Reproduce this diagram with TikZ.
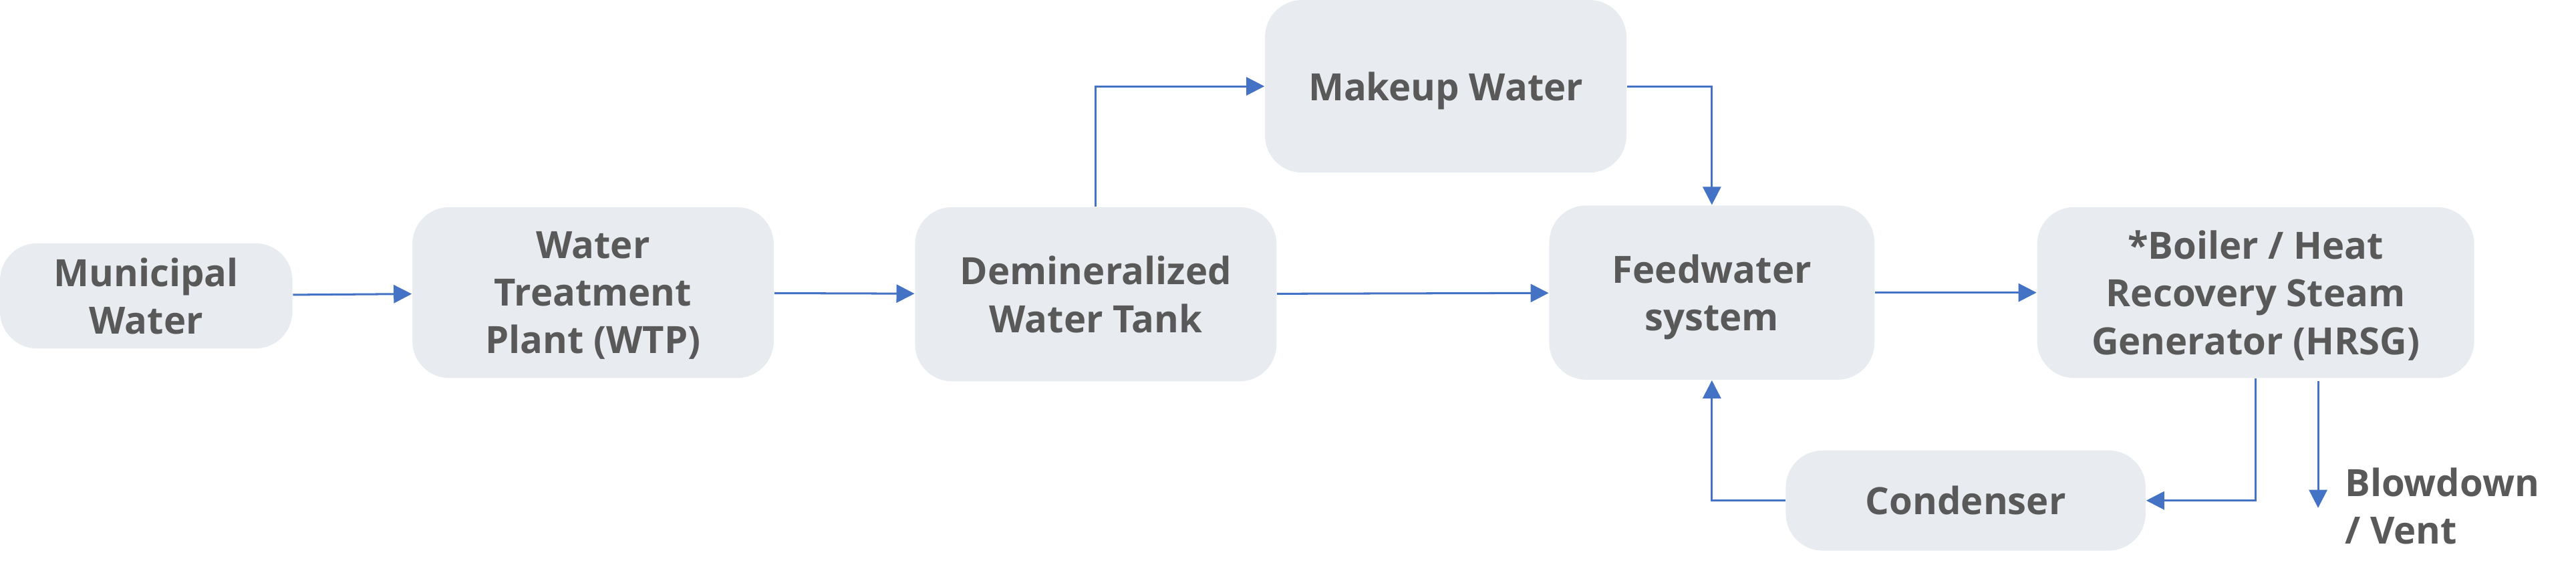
\documentclass[tikz,border=0pt]{standalone}
\usepackage{fontspec}
\setmainfont{Open Sans}
\usepackage{tikz}
\usetikzlibrary{positioning,arrows.meta,calc}
\definecolor{boxfill}{HTML}{E8ECF0}
\definecolor{boxtext}{HTML}{595959}
\definecolor{flowblue}{HTML}{4472C4}
\tikzset{
  flowarrow/.style={-{Triangle[length=2.2mm, width=2.2mm]}, line width=0.7pt, flowblue},
  procnode/.style={fill=boxfill, rounded corners=4.5mm, align=center, text=boxtext, inner sep=2pt, text depth=0pt},
  plainlabel/.style={align=left, text=boxtext, inner sep=0pt}
}

\begin{document}
\begin{tikzpicture}[every node/.style={font=\fontsize{13}{16.5}\selectfont\bfseries}]
  \useasboundingbox (0,0) rectangle (31.36,7.04);
  \node[procnode, minimum width=3.56cm, minimum height=1.28cm] (muni) at (1.78,3.44) {Municipal\\Water};
  \node[procnode, minimum width=4.4cm, minimum height=2.08cm] (wtp) at (7.22,3.48) {Water\\Treatment\\Plant (WTP)};
  \node[procnode, minimum width=4.4cm, minimum height=2.12cm] (demin) at (13.34,3.46) {Demineralized\\Water Tank};
  \node[procnode, minimum width=4.4cm, minimum height=2.1cm] (makeup) at (17.6,5.99) {Makeup Water};
  \node[procnode, minimum width=3.96cm, minimum height=2.12cm] (feed) at (20.84,3.48) {Feedwater\\system};
  \node[procnode, minimum width=5.32cm, minimum height=2.08cm] (boiler) at (27.46,3.48) {*Boiler / Heat\\Recovery Steam\\Generator (HRSG)};
  \node[procnode, minimum width=4.38cm, minimum height=1.22cm] (cond) at (23.93,0.95) {Condenser};
  \node[plainlabel, anchor=west] (blow) at (28.54,0.88) {Blowdown\\/ Vent};
  \coordinate (bdtop) at (28.22,2.4);
  \coordinate (bdend) at (28.22,0.86);
  \draw[flowarrow] (muni) -- (wtp);
  \draw[flowarrow] (wtp) -- (demin);
  \draw[flowarrow] (demin) -- (feed);
  \draw[flowarrow] (demin.north) |- (makeup.west);
  \draw[flowarrow] (makeup.east) -| (feed.north);
  \draw[flowarrow] (feed) -- (boiler);
  \draw[flowarrow] (boiler.south) |- (cond.east);
  \draw[flowarrow] (cond.west) -| (feed.south);
  \draw[flowarrow] (bdtop) -- (bdend);
\end{tikzpicture}
\end{document}
